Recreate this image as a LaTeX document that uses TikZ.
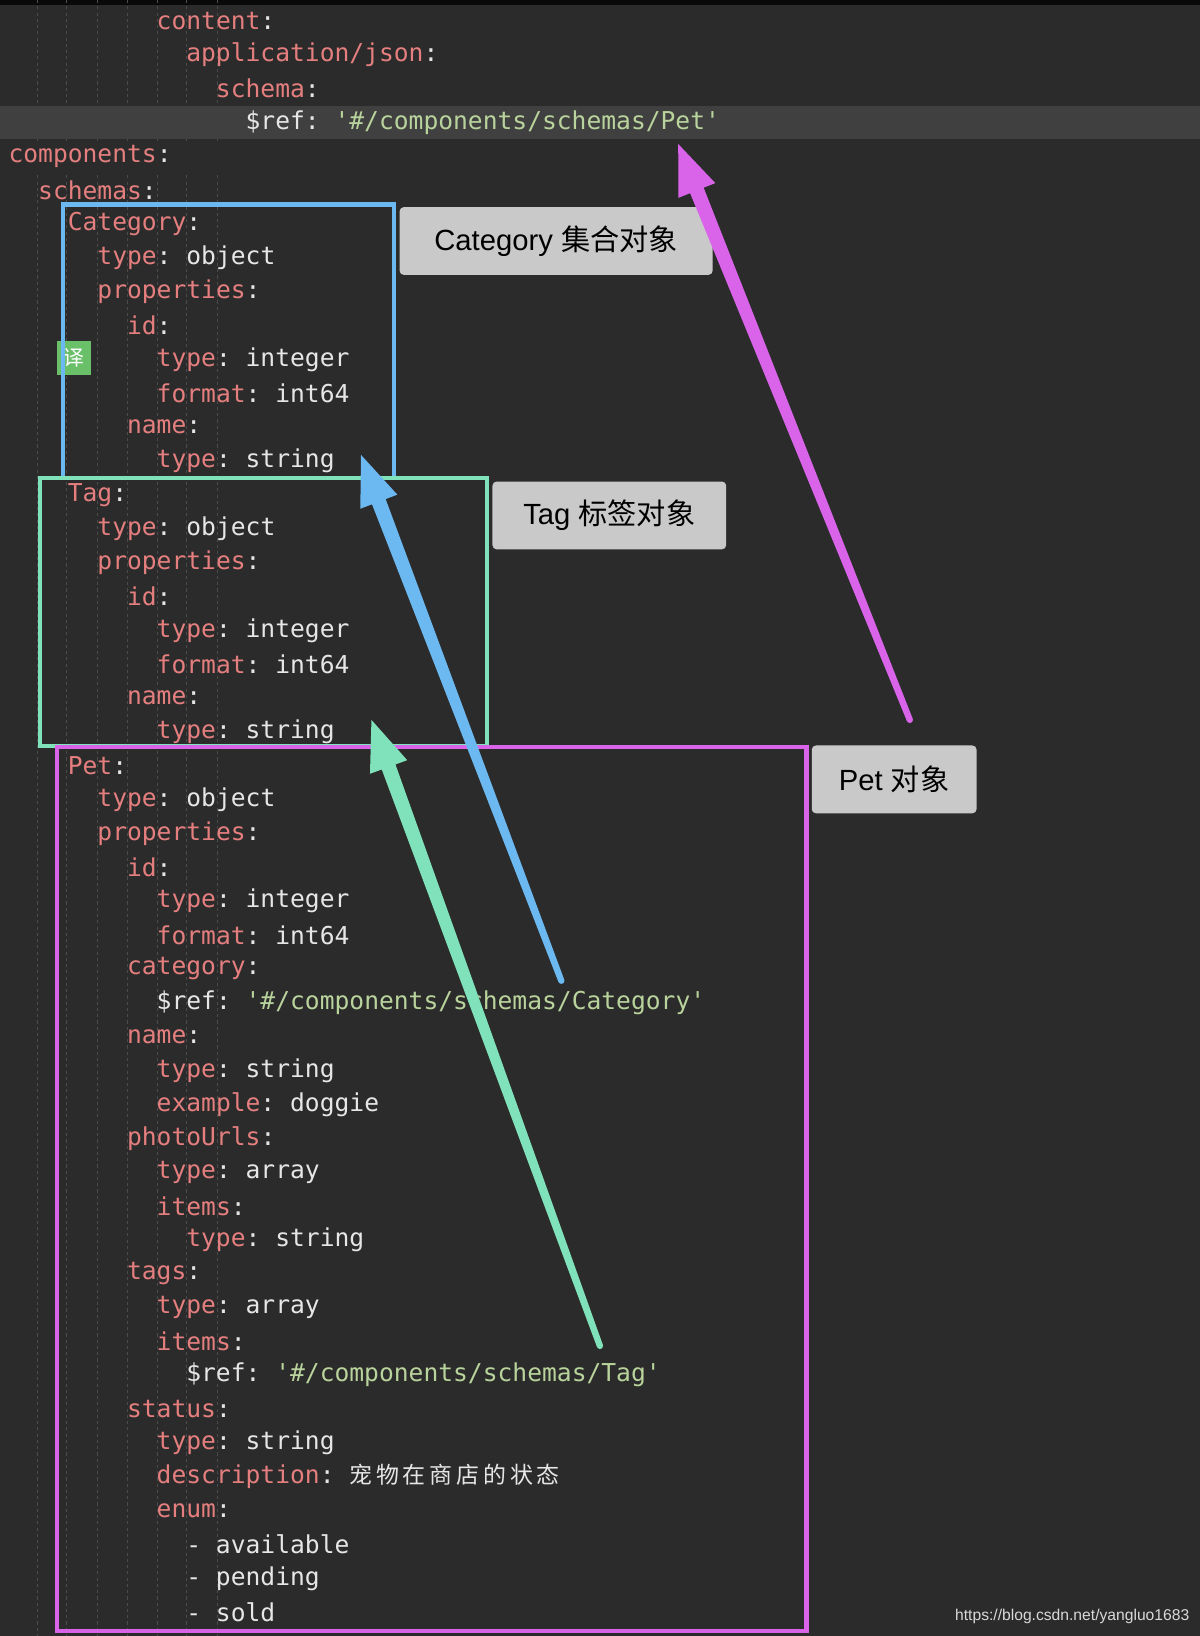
\documentclass[tikz,border=0pt]{standalone}
\usepackage{fontspec}
\setmonofont{DejaVu Sans Mono}
\newfontfamily\cjk{Noto Sans CJK SC}
\newfontfamily\lsans{Liberation Sans}
\usetikzlibrary{calc}
\definecolor{bg}{HTML}{2B2B2B}
\definecolor{kc}{HTML}{E57F7F}
\definecolor{vc}{HTML}{E6E6E6}
\definecolor{sc}{HTML}{B9D39C}
\definecolor{cblue}{HTML}{6CB8F0}
\definecolor{cgreen}{HTML}{80E2BA}
\definecolor{cmag}{HTML}{D964EA}
\definecolor{lbl}{HTML}{C9C9C9}
\definecolor{icon}{HTML}{6ABF69}
\newcommand{\K}[1]{\textcolor{kc}{#1}\textcolor{vc}{:}}
\newcommand{\V}[1]{\textcolor{vc}{#1}}
\newcommand{\Sg}[1]{\textcolor{sc}{#1}}
\newcommand{\cl}[3]{\node[codeline] (l#1) at ({8+#2*14.2},{20+#1*32.45}) {#3};}
\newcommand{\taparrow}[4]{%
  \coordinate (#4B) at ($(#3)!48pt!(#2)$);
  \fill[#1] ($(#2)!3pt!90:(#3)$) -- ($(#4B)!7pt!90:(#3)$) -- ($(#4B)!19pt!90:(#3)$) -- (#3)
   -- ($(#4B)!19pt!-90:(#3)$) -- ($(#4B)!7pt!-90:(#3)$) -- ($(#2)!3pt!-90:(#3)$) -- cycle;
  \fill[#1] (#2) circle (3pt);}
\tikzset{codeline/.style={anchor=west,inner sep=0,font=\ttfamily\fontsize{23.6}{26}\selectfont},
  lblbox/.style={fill=lbl,rounded corners=4,inner sep=0,font=\fontsize{28}{32}\selectfont,text=black},
  hbox/.style={line width=4}}
\begin{document}
\begin{tikzpicture}[x=1pt,y=-1pt]
\fill[bg] (0,0) rectangle (1150,1568);
\useasboundingbox (0,0) rectangle (1150,1568);
\fill[black!80!bg] (0,0) rectangle (1150,5);
\foreach \xx in {36,64,93,122,151,179,208} \draw[white!15!bg,dashed,line width=0.8] (\xx,0) -- (\xx,1568);
\fill[white!10!bg] (0,102) rectangle (1150,133);
\fill[bg] (0,136) rectangle (300,166);
\cl{0}{10}{\K{content}}
\cl{1}{12}{\K{application/json}}
\cl{2}{14}{\K{schema}}
\cl{3}{16}{\V{\$ref: }\Sg{'\#/components/schemas/Pet'}}
\cl{4}{0}{\K{components}}
\cl{5}{2}{\K{schemas}}
\cl{6}{4}{\K{Category}}
\cl{7}{6}{\K{type} \V{object}}
\cl{8}{6}{\K{properties}}
\cl{9}{8}{\K{id}}
\cl{10}{10}{\K{type} \V{integer}}
\cl{11}{10}{\K{format} \V{int64}}
\cl{12}{8}{\K{name}}
\cl{13}{10}{\K{type} \V{string}}
\cl{14}{4}{\K{Tag}}
\cl{15}{6}{\K{type} \V{object}}
\cl{16}{6}{\K{properties}}
\cl{17}{8}{\K{id}}
\cl{18}{10}{\K{type} \V{integer}}
\cl{19}{10}{\K{format} \V{int64}}
\cl{20}{8}{\K{name}}
\cl{21}{10}{\K{type} \V{string}}
\cl{22}{4}{\K{Pet}}
\cl{23}{6}{\K{type} \V{object}}
\cl{24}{6}{\K{properties}}
\cl{25}{8}{\K{id}}
\cl{26}{10}{\K{type} \V{integer}}
\cl{27}{10}{\K{format} \V{int64}}
\cl{28}{8}{\K{category}}
\cl{29}{10}{\V{\$ref: }\Sg{'\#/components/schemas/Category'}}
\cl{30}{8}{\K{name}}
\cl{31}{10}{\K{type} \V{string}}
\cl{32}{10}{\K{example} \V{doggie}}
\cl{33}{8}{\K{photoUrls}}
\cl{34}{10}{\K{type} \V{array}}
\cl{35}{10}{\K{items}}
\cl{36}{12}{\K{type} \V{string}}
\cl{37}{8}{\K{tags}}
\cl{38}{10}{\K{type} \V{array}}
\cl{39}{10}{\K{items}}
\cl{40}{12}{\V{\$ref: }\Sg{'\#/components/schemas/Tag'}}
\cl{41}{8}{\K{status}}
\cl{42}{10}{\K{type} \V{string}}
\cl{43}{10}{\K{description} \V{\cjk\fontsize{22}{26}\selectfont 宠\,物\,在\,商\,店\,的\,状\,态}}
\cl{44}{10}{\K{enum}}
\cl{45}{12}{\V{- available}}
\cl{46}{12}{\V{- pending}}
\cl{47}{12}{\V{- sold}}
\node[fill=icon,text=white,minimum size=32,inner sep=0,font=\cjk\fontsize{20}{22}\selectfont] (yi) at (71,343) {译};
\draw[hbox,cblue] (60,196) rectangle (378,458);
\draw[hbox,cgreen] (38,458) rectangle (467,715);
\draw[hbox,cmag] (55,716) rectangle (773,1563);
\node[lblbox,minimum width=300,minimum height=65] (lc) at (533,231) {\lsans Category \cjk 集合对象};
\node[lblbox,minimum width=224,minimum height=65] (lt) at (584,494) {\lsans Tag \cjk 标签对象};
\node[lblbox,minimum width=158,minimum height=65] (lp) at (857,747) {\lsans Pet \cjk 对象};
\coordinate (mt) at (872,690); \coordinate (mh) at (650,138);
\coordinate (bt) at (538,940); \coordinate (bh) at (346,436);
\coordinate (gt) at (575,1290); \coordinate (gh) at (356,690);
\taparrow{cmag}{mt}{mh}{m}
\taparrow{cblue}{bt}{bh}{b}
\taparrow{cgreen}{gt}{gh}{g}
\node[anchor=east,inner sep=0,text=white!85!black,font=\lsans\fontsize{15}{17}\selectfont] (wm) at (1140,1549) {https://blog.csdn.net/yangluo1683};
\end{tikzpicture}
\end{document}
